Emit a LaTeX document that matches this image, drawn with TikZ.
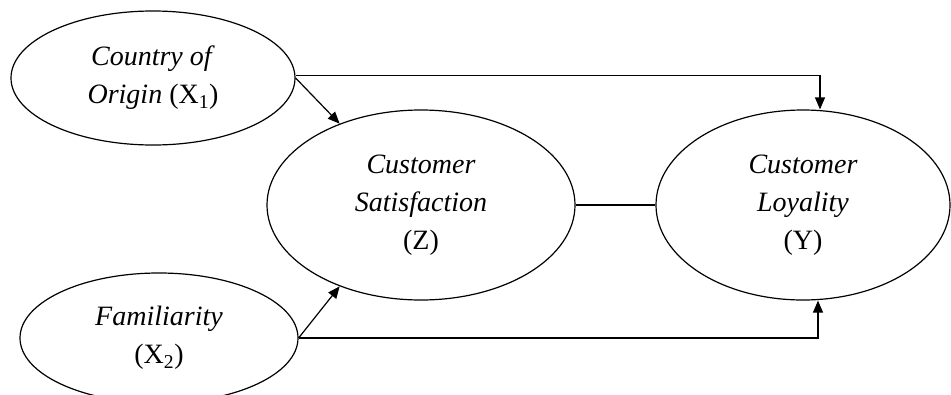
\documentclass[tikz,border=0pt]{standalone}
\usepackage{fontspec}
\setmainfont{Liberation Serif}
\usetikzlibrary{shapes.geometric, arrows.meta}

\begin{document}
\begin{tikzpicture}[x=1pt, y=-1pt, line width=1.2pt,
    latent/.style={draw, ellipse, inner sep=0pt, align=center,
      font=\fontsize{28}{38}\selectfont},
    path/.style={-{Triangle[length=12pt, width=10pt]}}]
  \useasboundingbox (0,0) rectangle (951,394);

  % exogenous variables
  \node[latent, minimum width=284pt, minimum height=134pt] (cntry) at (153,  78)
    {\textit{Country of}\\\textit{Origin} (X\textsubscript{1})};
  \node[latent, minimum width=278pt, minimum height=130pt] (famil) at (159, 338)
    {\textit{Familiarity}\\(X\textsubscript{2})};

  % mediator and outcome
  \node[latent, minimum width=308pt, minimum height=190pt] (satis) at (421, 205)
    {\textit{Customer}\\\textit{Satisfaction}\\(Z)};
  \node[latent, minimum width=294pt, minimum height=190pt] (loyal) at (803, 205)
    {\textit{Customer}\\\textit{Loyality}\\(Y)};

  % paths
  \draw[path] (cntry.1.5) -| ([xshift=17pt]loyal.north);
  \draw[path] (cntry.east) -- (satis.135);
  \draw[path] (famil.east) -- (satis.225);
  \draw[path] (famil.east) -| ([xshift=15pt]loyal.south);
  \draw (satis.east) -- (loyal.west);
\end{tikzpicture}
\end{document}
